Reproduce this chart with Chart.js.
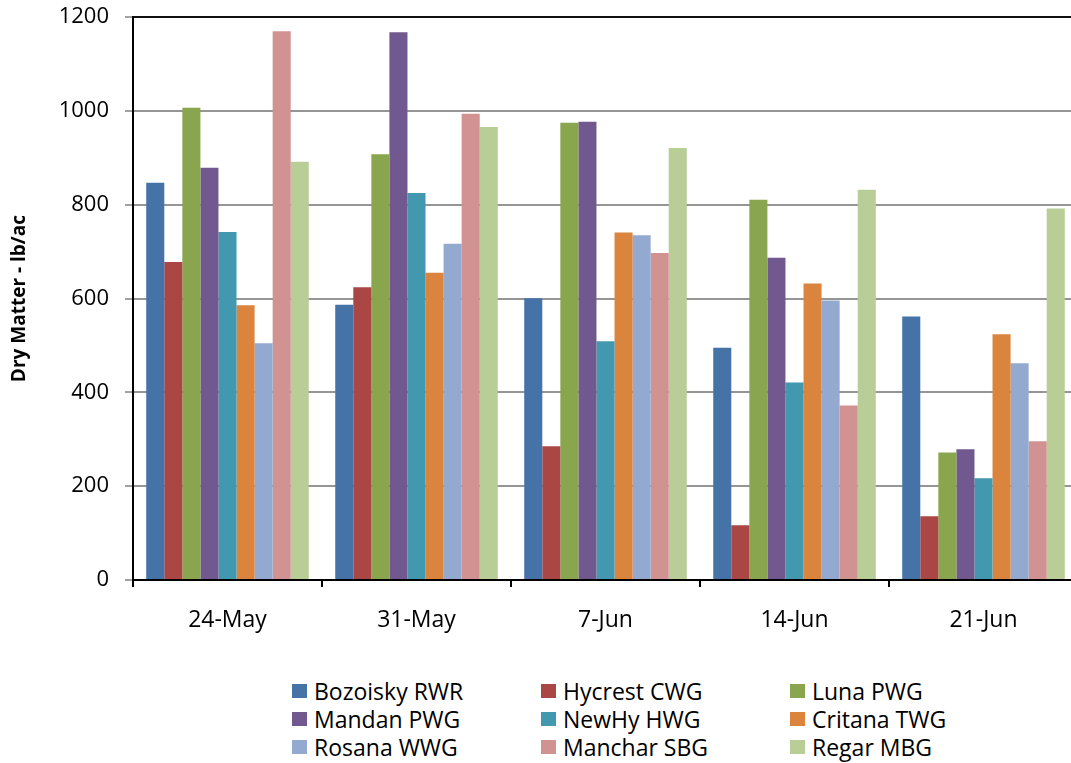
<!DOCTYPE html>
<html>
<head>
<meta charset="utf-8">
<script src="https://cdn.jsdelivr.net/npm/chart.js@4.4.0/dist/chart.umd.min.js"></script>
<style>
  html, body { margin: 0; padding: 0; background: #fff; overflow: hidden; width: 1071px; height: 763px; }
  #wrap { position: absolute; left: 0; top: 0; width: 1071px; height: 763px; overflow: hidden; }
  #box { position: absolute; left: 0; top: -12px; width: 1085px; height: 677px; }
  #legend { position: absolute; left: 0; top: 0; font-family: "Open Sans", sans-serif; font-size: 23px; color: #000; }
  .item { position: absolute; height: 28px; line-height: 28px; white-space: nowrap; }
  .sw { position: absolute; left: 0; top: 7px; width: 15px; height: 14px; }
  .lbl { position: absolute; left: 22px; top: 0; }
</style>
</head>
<body>
<div id="wrap">
  <div id="box"><canvas id="c"></canvas></div>
  <div id="legend"></div>
</div>
<script>
const categories = ["24-May", "31-May", "7-Jun", "14-Jun", "21-Jun"];
const seriesNames = ["Bozoisky RWR", "Hycrest CWG", "Luna PWG", "Mandan PWG", "NewHy HWG", "Critana TWG", "Rosana WWG", "Manchar SBG", "Regar MBG"];
const bozoisky = [847, 587, 601, 495, 562];
const hycrest  = [678, 624, 285, 117, 136];
const luna     = [1007, 908, 975, 811, 272];
const mandan   = [879, 1168, 977, 687, 279];
const newhy    = [742, 825, 509, 421, 217];
const critana  = [586, 655, 741, 632, 524];
const rosana   = [505, 717, 735, 596, 462];
const manchar  = [1170, 994, 697, 372, 296];
const regar    = [892, 966, 921, 832, 792];
const yTicks   = [0, 200, 400, 600, 800, 1000, 1200];
const colors = ["#4572A7", "#AA4643", "#89A54E", "#71588F", "#4198AF", "#DB843D", "#93A9CF", "#D19392", "#B9CD96"];
const allSeries = [bozoisky, hycrest, luna, mandan, newhy, critana, rosana, manchar, regar];

const datasets = allSeries.map((vals, i) => ({
  label: seriesNames[i],
  data: vals,
  backgroundColor: colors[i],
  borderWidth: 0,
  categoryPercentage: 0.86,
  barPercentage: 1.0
}));

const CHART_LEFT = 133, X_AXIS_H = 85;

new Chart(document.getElementById('c'), {
  type: 'bar',
  data: { labels: categories, datasets },
  options: {
    responsive: true,
    maintainAspectRatio: false,
    animation: false,
    layout: { padding: { left: 0, right: 7, top: 6, bottom: 0 } },
    plugins: { legend: { display: false }, tooltip: { enabled: false } },
    scales: {
      x: {
        grid: { display: true, drawOnChartArea: false, drawTicks: true, tickLength: 7, offset: true, color: '#000', lineWidth: 2 },
        border: { display: true, color: '#000', width: 2 },
        ticks: { color: '#000', font: { family: 'Open Sans', size: 23 }, padding: 20, maxRotation: 0 },
        afterFit: (s) => { s.height = X_AXIS_H; }
      },
      y: {
        min: 0, max: 1200,
        afterBuildTicks: (s) => { s.ticks = yTicks.map(v => ({ value: v })); },
        grid: {
          color: (ctx) => ctx.tick && ctx.tick.value === 1200 ? '#111' : '#959595',
          lineWidth: 2,
          tickLength: 8,
          tickColor: '#444',
          tickWidth: 1
        },
        border: { display: true, color: '#000', width: 2 },
        ticks: { color: '#000', font: { family: 'Open Sans', size: 22 }, padding: 16, callback: (v) => String(v) },
        title: { display: true, text: 'Dry Matter - lb/ac', color: '#000', font: { family: 'Open Sans', size: 19, weight: 'bold' }, padding: { top: 8, bottom: 0 } },
        afterFit: (s) => { s.width = CHART_LEFT; }
      }
    }
  }
});

const leg = document.getElementById('legend');
seriesNames.forEach((name, i) => {
  const col = i % 3, row = Math.floor(i / 3);
  const it = document.createElement('div');
  it.className = 'item';
  it.style.left = (292 + col * 249) + 'px';
  it.style.top = (677 + row * 28) + 'px';
  const sw = document.createElement('span');
  sw.className = 'sw';
  sw.style.background = colors[i];
  const lb = document.createElement('span');
  lb.className = 'lbl';
  lb.textContent = name;
  it.appendChild(sw); it.appendChild(lb);
  leg.appendChild(it);
});
</script>
</body>
</html>
